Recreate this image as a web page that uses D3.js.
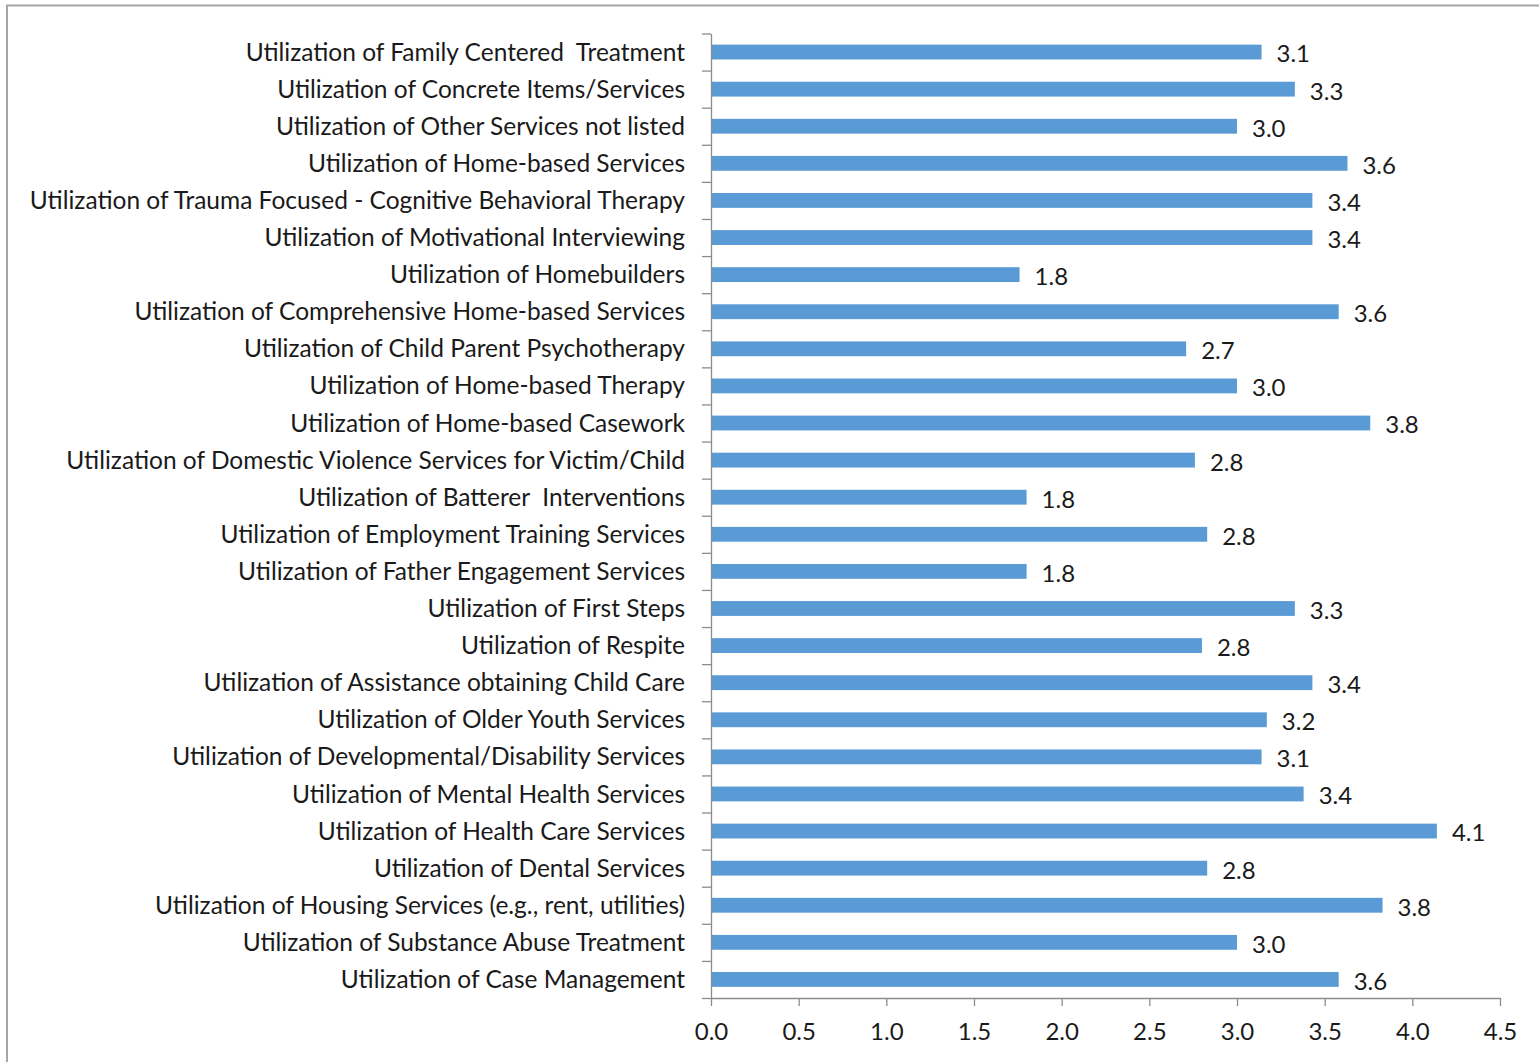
<!DOCTYPE html>
<html>
<head>
<meta charset="utf-8">
<script src="https://cdn.jsdelivr.net/npm/d3@7"></script>
<style>
  html, body { margin: 0; padding: 0; background: #fff; }
  svg { display: block; }
  text { font-family: Lato, "Open Sans", sans-serif; fill: #1a1a1a; }
</style>
</head>
<body>
<svg id="chart" width="1539" height="1062"></svg>
<script>
const categories = [
  "Utilization of Family Centered  Treatment",
  "Utilization of Concrete Items/Services",
  "Utilization of Other Services not listed",
  "Utilization of Home-based Services",
  "Utilization of Trauma Focused - Cognitive Behavioral Therapy",
  "Utilization of Motivational Interviewing",
  "Utilization of Homebuilders",
  "Utilization of Comprehensive Home-based Services",
  "Utilization of Child Parent Psychotherapy",
  "Utilization of Home-based Therapy",
  "Utilization of Home-based Casework",
  "Utilization of Domestic Violence Services for Victim/Child",
  "Utilization of Batterer  Interventions",
  "Utilization of Employment Training Services",
  "Utilization of Father Engagement Services",
  "Utilization of First Steps",
  "Utilization of Respite",
  "Utilization of Assistance obtaining Child Care",
  "Utilization of Older Youth Services",
  "Utilization of Developmental/Disability Services",
  "Utilization of Mental Health Services",
  "Utilization of Health Care Services",
  "Utilization of Dental Services",
  "Utilization of Housing Services (e.g., rent, utilities)",
  "Utilization of Substance Abuse Treatment",
  "Utilization of Case Management"
];
const values = [
  3.14, 3.33, 3.00, 3.63, 3.43, 3.43, 1.76, 3.58, 2.71, 3.00, 3.76, 2.76, 1.80,
  2.83, 1.80, 3.33, 2.80, 3.43, 3.17, 3.14, 3.38, 4.14, 2.83, 3.83, 3.00, 3.58
];
const xTicks = [0, 0.5, 1.0, 1.5, 2.0, 2.5, 3.0, 3.5, 4.0, 4.5];

const svg = d3.select("#chart");
const W = 1539, H = 1062;
const mLeft = 711, mRight = 1500, mTop = 33.5, mBottom = 998;

// outer border
svg.append("rect")
  .attr("x", 7).attr("y", 5.5)
  .attr("width", W + 20).attr("height", H + 20)
  .attr("fill", "none").attr("stroke", "#a6a6a6").attr("stroke-width", 2);

const x = d3.scaleLinear().domain([0, 4.5]).range([mLeft, mRight]);
const y = d3.scaleBand().domain(categories).range([mTop, mBottom]).paddingInner(0.6).paddingOuter(0.3);
const yIdx = d3.scaleLinear().domain([0, categories.length]).range([mTop, mBottom]);

// bars
svg.append("g").selectAll("rect")
  .data(categories)
  .join("rect")
  .attr("x", x(0))
  .attr("y", d => y(d))
  .attr("width", (d, i) => x(values[i]) - x(0))
  .attr("height", y.bandwidth())
  .attr("fill", "#5b9bd5");

// value labels
svg.append("g").selectAll("text")
  .data(categories)
  .join("text")
  .attr("x", (d, i) => x(values[i]) + 15)
  .attr("y", d => y(d) + y.bandwidth() / 2 + 2)
  .attr("dy", "0.35em")
  .attr("font-size", 24)
  .text((d, i) => values[i].toFixed(1));

// y axis (ticks between categories)
const gy = svg.append("g")
  .attr("transform", `translate(${mLeft},0)`)
  .call(d3.axisLeft(yIdx).tickValues(d3.range(categories.length + 1)).tickSize(9).tickSizeOuter(0).tickFormat(""));
gy.selectAll("path, line").attr("stroke", "#8c8c8c").attr("stroke-width", 1.3);

// category labels
svg.append("g").selectAll("text")
  .data(categories)
  .join("text")
  .attr("x", 685)
  .attr("y", d => y(d) + y.bandwidth() / 2)
  .attr("dy", "0.35em")
  .attr("text-anchor", "end")
  .attr("font-size", 24.5)
  .style("white-space", "pre")
  .text(d => d);

// x axis
const gx = svg.append("g")
  .attr("transform", `translate(0,${mBottom})`)
  .call(d3.axisBottom(x).tickValues(xTicks).tickSize(8).tickSizeOuter(0).tickPadding(17).tickFormat(d3.format(".1f")));
gx.selectAll("path, line").attr("stroke", "#8c8c8c").attr("stroke-width", 1.3);
gx.selectAll("text").attr("font-size", 24).attr("font-family", "Lato, 'Open Sans', sans-serif").attr("fill", "#1a1a1a");
</script>
</body>
</html>
